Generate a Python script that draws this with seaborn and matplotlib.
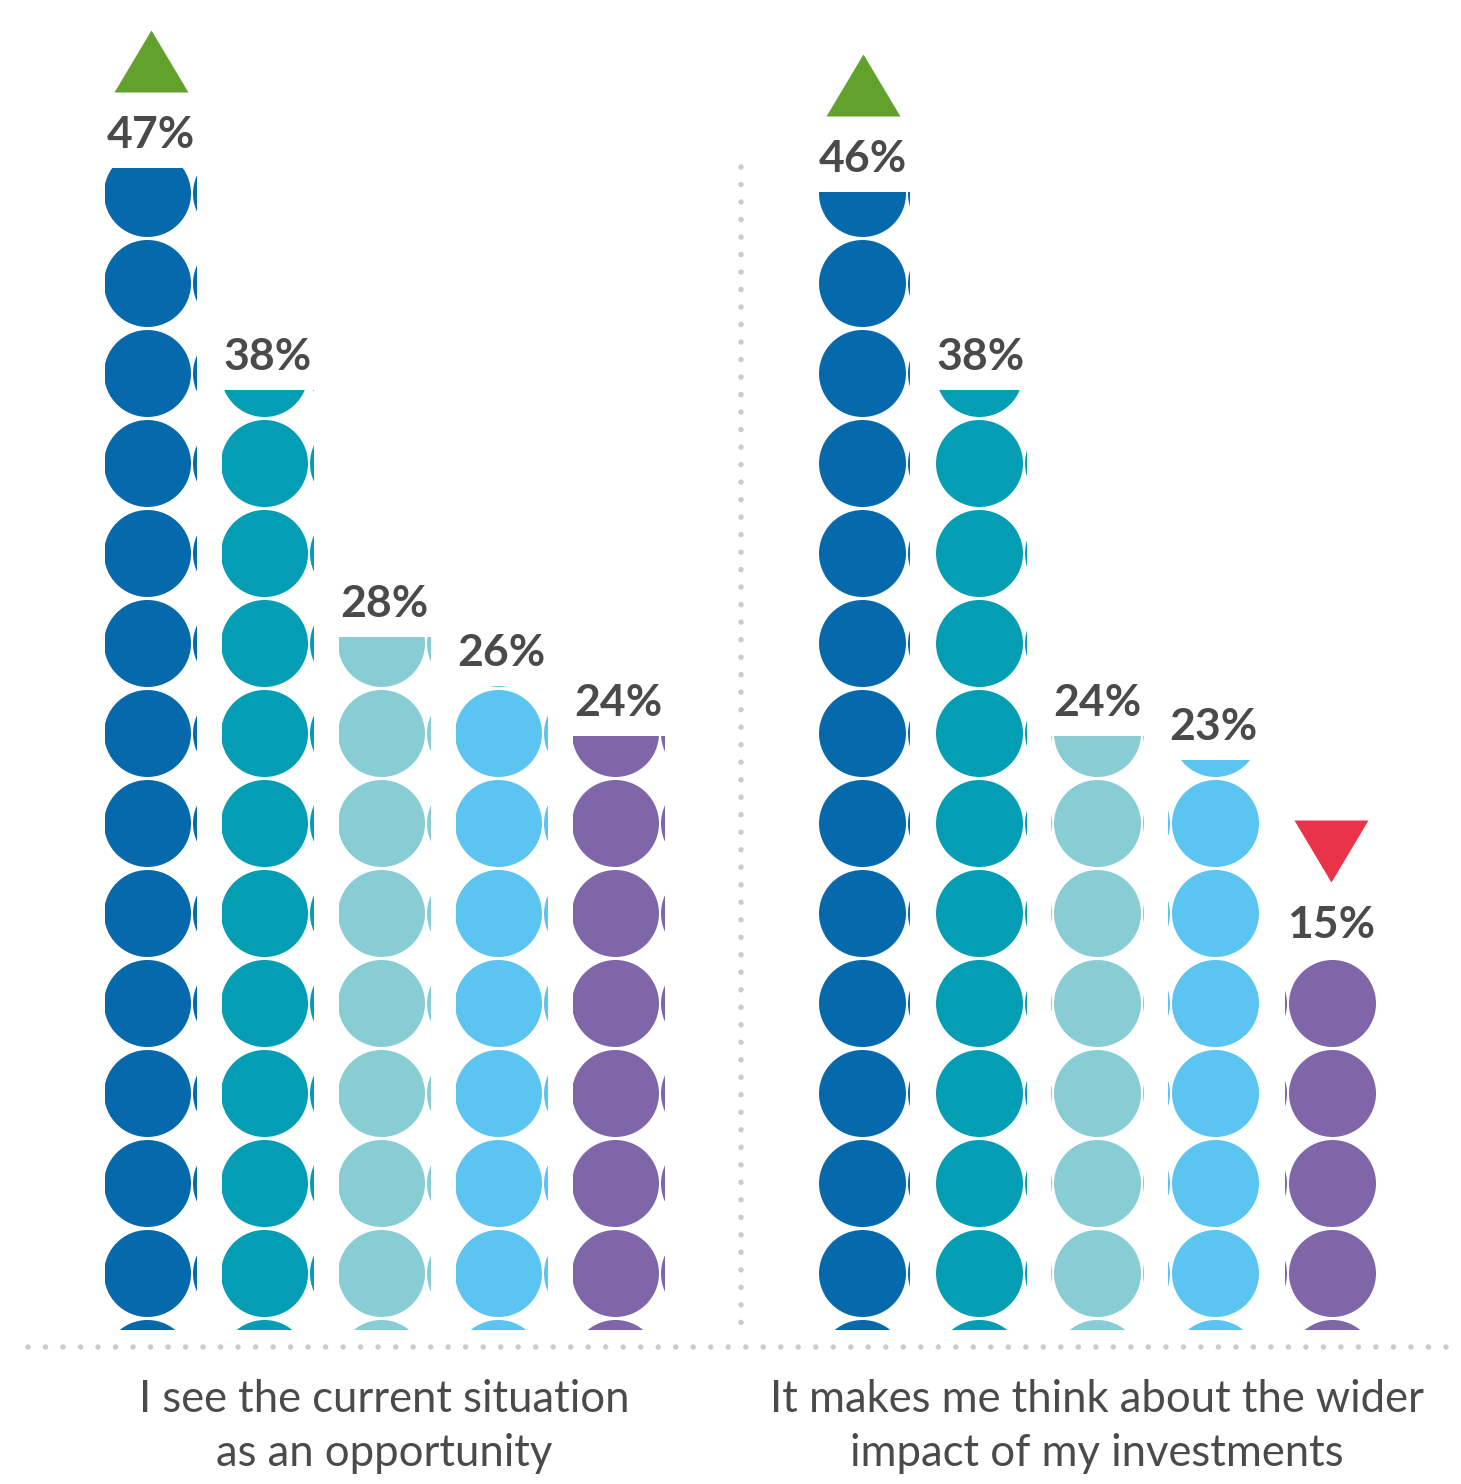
import numpy as np
import pandas as pd
import matplotlib
matplotlib.use("Agg")
import matplotlib.pyplot as plt
import matplotlib.transforms as mtransforms
import seaborn as sns

# ---- data -------------------------------------------------------------
statements = [
    "I see the current situation\nas an opportunity",
    "It makes me think about the wider\nimpact of my investments",
]
segments = ["A", "B", "C", "D", "E"]
values_first = [47, 38, 28, 26, 24]
values_second = [46, 38, 24, 23, 15]
change_first = ["up", "", "", "", ""]
change_second = ["up", "", "", "", "down"]

# ---- styles -----------------------------------------------------------
segment_colors = ["#0569ab", "#039eb3", "#89cdd4", "#5bc4f0", "#7e66a8"]
up_color = "#62a12c"
down_color = "#e8334a"
text_color = "#4a4a4a"
dot_color = "#cfcac6"
# horizontal shift (px) of the circle column inside each bar
circle_shift_px = [[-3.5, -3.5, -3.5, -3.5, -3.5], [-1.5, -1.5, 0, 1, 1]]

df = pd.DataFrame({
    "statement": np.repeat(statements, len(segments)),
    "segment": segments * len(statements),
    "value": values_first + values_second,
})
changes = [change_first, change_second]

sns.set_theme(style="white")
plt.rcParams["font.family"] = ["Lato", "DejaVu Sans"]

DPI = 100
W, H = 1461, 1484
PX_PER_PCT = 24.7      # vertical scale
BASE_PX = 1328.5       # baseline, px from top
PX_PER_X = 712.5       # horizontal scale (one category step)
X0_PX = 384.5          # px position of first category

fig = plt.figure(figsize=(W / DPI, H / DPI), dpi=DPI)
fig.patch.set_facecolor("white")
ax = fig.add_axes([0, (H - BASE_PX) / H, 1, BASE_PX / H])

sns.barplot(data=df, x="statement", y="value", hue="segment",
            order=statements, hue_order=segments, palette=segment_colors,
            width=0.82, gap=0.22, errorbar=None, legend=False, ax=ax)

ax.set_xlim(-X0_PX / PX_PER_X, (W - X0_PX) / PX_PER_X)
ax.set_ylim(0, BASE_PX / PX_PER_PCT)
ax.set_axis_off()

px2pt = 72.0 / DPI
radius_px = 43.5
pitch_x = 89.0 / PX_PER_X
pitch_y = 90.0 / PX_PER_PCT
row0 = (BASE_PX - 1273.0) / PX_PER_PCT   # centre of lowest full circle
circle_size = (2 * radius_px * px2pt) ** 2

tri_up = [(-37, -31), (37, -31), (0, 31), (-37, -31)]
tri_down = [(-37, 31), (37, 31), (0, -31), (-37, 31)]
tri_size = (74 * px2pt) ** 2
tri_offset = mtransforms.offset_copy(ax.transData, fig=fig, x=0,
                                     y=107 * px2pt, units="points")

for i, container in enumerate(ax.containers):
    color = segment_colors[i]
    for j, patch in enumerate(container.patches):
        value = patch.get_height()
        xc = patch.get_x() + patch.get_width() / 2
        patch.set_facecolor("none")
        patch.set_edgecolor("none")

        # grid of circles filling the bar, clipped to the bar outline
        cx = xc + circle_shift_px[j][i] / PX_PER_X
        n_rows = int(np.ceil((value - row0) / pitch_y)) + 2
        ys = row0 + pitch_y * np.arange(-1, n_rows)
        xs = cx + pitch_x * np.array([-1, 0, 1])
        gx, gy = np.meshgrid(xs, ys)
        sc = ax.scatter(gx.ravel(), gy.ravel(), s=circle_size, color=color,
                        linewidths=0, zorder=2)
        sc.set_clip_path(patch)

        ax.annotate(f"{value:.0f}%", xy=(xc, value),
                    xytext=(0, 20 * px2pt), textcoords="offset points",
                    ha="center", va="baseline", fontsize=32,
                    fontweight="bold", color=text_color)

        trend = changes[j][i]
        if trend:
            ax.scatter([xc], [value], transform=tri_offset,
                       marker=tri_up if trend == "up" else tri_down,
                       s=tri_size, linewidths=0,
                       color=up_color if trend == "up" else down_color,
                       zorder=3, clip_on=False)

# statement labels under each group
for k, label in enumerate(statements):
    for n, line in enumerate(label.split("\n")):
        ax.annotate(line, xy=(k, 0), xytext=(0, -(84 + 53 * n) * px2pt),
                    textcoords="offset points", ha="center", va="baseline",
                    fontsize=31.4, fontweight="normal", color=text_color,
                    annotation_clip=False)

# dotted separators
dot_lw = 5.5 * px2pt
dot_gap = 17.5 / 5.5
y_rule = -(1347 - BASE_PX) / PX_PER_PCT
ax.plot([-0.5, 1.5], [y_rule, y_rule], color=dot_color, lw=dot_lw,
        dashes=(0.001, dot_gap), dash_capstyle="round", clip_on=False, zorder=1)
ax.plot([0.5, 0.5], [(BASE_PX - 167) / PX_PER_PCT, 0], color=dot_color,
        lw=dot_lw, dashes=(0.001, dot_gap), dash_capstyle="round",
        clip_on=False, zorder=1)

fig.savefig("out.png", dpi=DPI, facecolor="white")
